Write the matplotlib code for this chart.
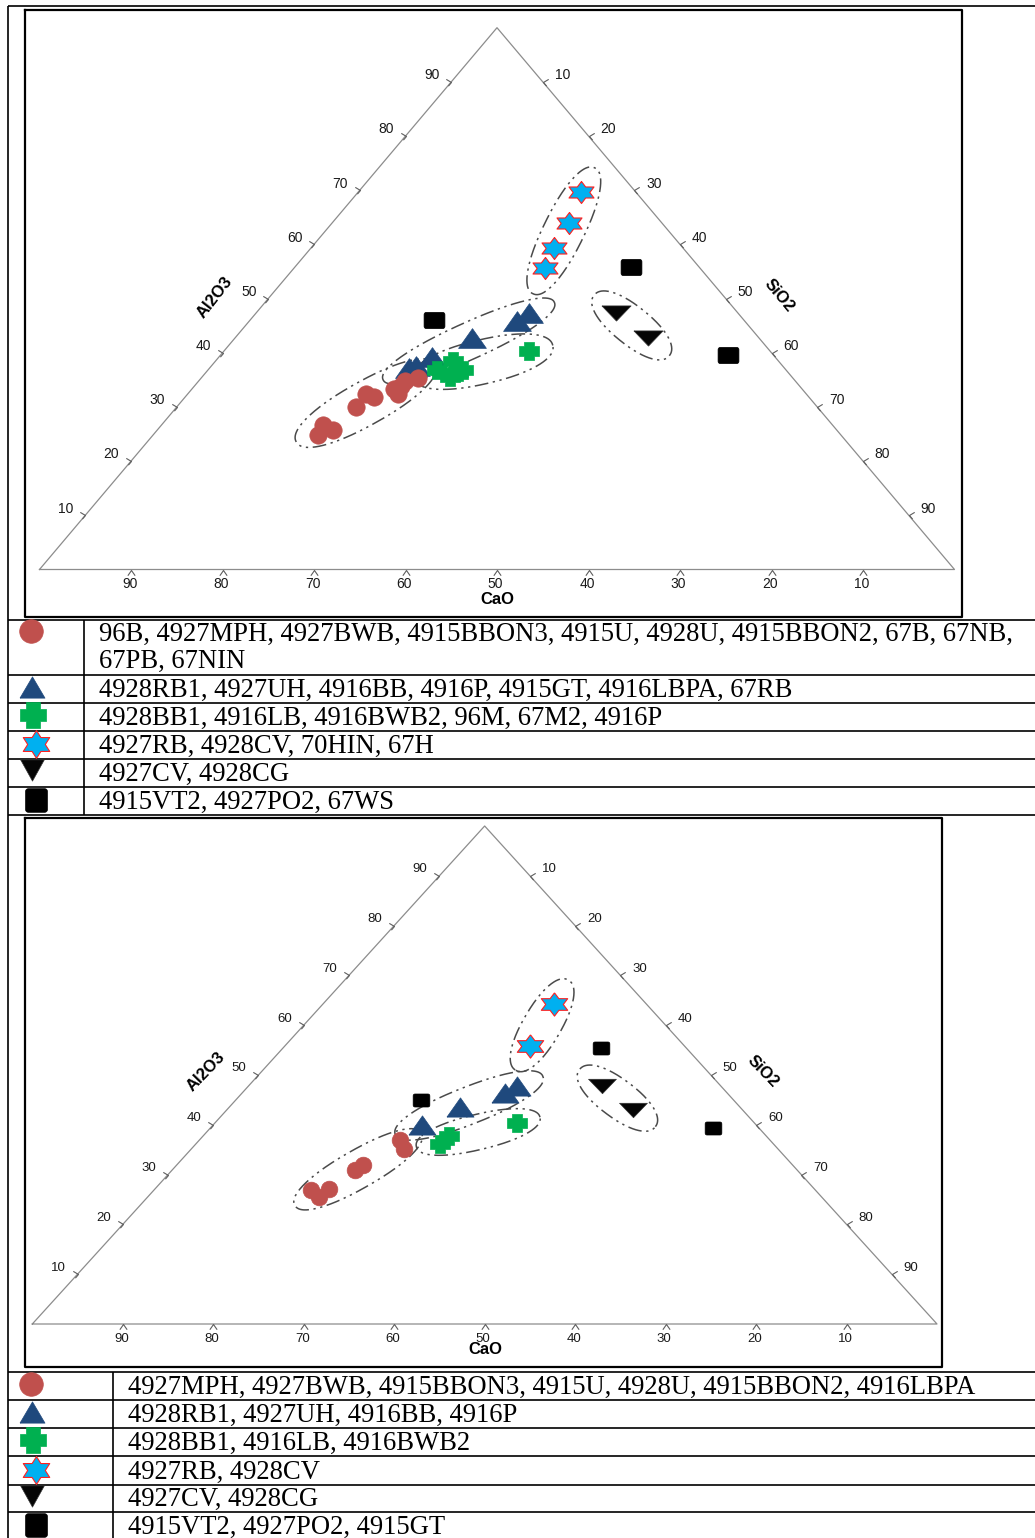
import numpy as np
import matplotlib
matplotlib.use("Agg")
import matplotlib.pyplot as plt

plt.rcParams['font.family'] = ['Liberation Sans', 'DejaVu Sans']

# ---------------- data: (CaO, Al2O3, SiO2) in wt% ----------------
TICKS = [10, 20, 30, 40, 50, 60, 70, 80, 90]

# upper diagram
A_CIRCLE = [(57.2, 24.8, 18.0), (55.7, 26.7, 17.6), (55.1, 25.7, 19.2),
            (50.4, 30.0, 19.6), (48.1, 32.4, 19.5), (47.5, 31.9, 20.6),
            (44.6, 33.3, 22.1), (44.6, 32.4, 23.0), (43.5, 33.9, 22.6),
            (42.7, 34.8, 22.5), (41.0, 35.3, 23.7)]
A_TRIANGLE = [(41.1, 37.1, 21.8), (40.1, 37.6, 22.3), (37.5, 39.3, 23.2),
              (31.4, 42.7, 25.9), (24.9, 45.9, 29.2), (22.9, 47.3, 29.8)]
A_PLUS = [(38.2, 36.8, 25.0), (35.6, 38.4, 26.0), (36.0, 36.5, 27.5),
          (37.3, 35.6, 27.1), (35.3, 36.8, 27.9), (26.3, 40.3, 33.4)]
A_STAR = [(6.0, 69.6, 24.4), (10.1, 64.0, 25.9), (14.1, 59.3, 26.6),
          (17.0, 55.6, 27.4)]
A_DOWN = [(13.3, 47.4, 39.3), (12.2, 42.7, 45.1)]
A_SQUARE = [(33.8, 46.1, 20.1), (7.4, 55.9, 36.7), (5.0, 39.5, 55.5)]

# lower diagram
B_CIRCLE = [(55.7, 26.9, 17.4), (53.6, 27.2, 19.2), (55.5, 25.6, 18.9),
            (48.9, 30.9, 20.2), (47.4, 32.0, 20.6), (40.9, 36.9, 22.2),
            (41.4, 35.1, 23.5)]
B_TRIANGLE = [(37.0, 39.9, 23.1), (31.0, 43.5, 25.5), (24.5, 46.4, 29.1),
              (22.6, 47.7, 29.7)]
B_PLUS = [(36.8, 36.2, 27.0), (35.1, 37.7, 27.2), (26.3, 40.3, 33.4)]
B_STAR = [(10.2, 64.2, 25.6), (17.1, 55.8, 27.1)]
B_DOWN = [(13.2, 47.7, 39.1), (12.1, 43.0, 44.9)]
B_SQUARE = [(34.5, 45.0, 20.5), (9.4, 55.4, 35.2), (5.1, 39.3, 55.6)]

A_LABELS = ["96B, 4927MPH, 4927BWB, 4915BBON3, 4915U, 4928U, 4915BBON2, 67B, 67NB,\n67PB, 67NIN",
            "4928RB1, 4927UH, 4916BB, 4916P, 4915GT, 4916LBPA, 67RB",
            "4928BB1, 4916LB, 4916BWB2, 96M, 67M2, 4916P",
            "4927RB, 4928CV, 70HIN, 67H",
            "4927CV, 4928CG",
            "4915VT2, 4927PO2, 67WS"]
B_LABELS = ["4927MPH, 4927BWB, 4915BBON3, 4915U, 4928U, 4915BBON2, 4916LBPA",
            "4928RB1, 4927UH, 4916BB, 4916P",
            "4928BB1, 4916LB, 4916BWB2",
            "4927RB, 4928CV",
            "4927CV, 4928CG",
            "4915VT2, 4927PO2, 4915GT"]

# ---------------- marker shapes ----------------
def tri_marker(h, down=False):
    s = -1 if down else 1
    return [(-1, -s * h), (1, -s * h), (0, s * h), (-1, -s * h)]


def plus_marker(h=0.9, aw=0.55, ah=0.5):
    return [(-aw, h), (aw, h), (aw, ah), (1, ah), (1, -ah), (aw, -ah),
            (aw, -h), (-aw, -h), (-aw, -ah), (-1, -ah), (-1, ah), (-aw, ah),
            (-aw, h)]


def star_marker(sx=1.31, inner=0.577):
    k = np.arange(12)
    ang = np.pi / 2 + k * np.pi / 6
    r = np.where(k % 2 == 0, 1.0, inner)
    pts = list(zip(sx * r * np.cos(ang), r * np.sin(ang)))
    return pts + [pts[0]]


def rrect_marker(h=0.78, r=0.22):
    pts = []
    for cx, cy, a0 in [(1 - r, h - r, 0), (-(1 - r), h - r, 90),
                       (-(1 - r), -(h - r), 180), (1 - r, -(h - r), 270)]:
        for a in np.radians(np.linspace(a0, a0 + 90, 7)):
            pts.append((cx + r * np.cos(a), cy + r * np.sin(a)))
    return pts + [pts[0]]


RED, BLUE, GREEN, CYAN = '#C0504D', '#1F497D', '#00B050', '#00B0F0'

STYLES = {
    'circle':   dict(marker='o', color=RED, mec=RED, z=4),
    'triangle': dict(marker=tri_marker(0.71), color=BLUE, mec=BLUE, z=3),
    'plus':     dict(marker=plus_marker(), color=GREEN, mec=GREEN, z=4),
    'star':     dict(marker=star_marker(), color=CYAN, mec='#FF2020', z=4),
    'down':     dict(marker=tri_marker(0.52, down=True), color='#050505', mec='#333333', z=4),
    'square':   dict(marker=rrect_marker(), color='black', mec='black', z=4),
}

W, H = 1035, 1538
fig = plt.figure(figsize=(W / 100, H / 100), dpi=100)
fig.patch.set_facecolor('white')

# page layer in pixel units: table rules, legend glyphs, legend text
page = fig.add_axes([0, 0, 1, 1])
page.set_xlim(0, W)
page.set_ylim(H, 0)
page.axis('off')


def to_xy(pts):
    arr = np.asarray(pts, float)
    cao, al, si = arr.T
    tot = arr.sum(axis=1)
    return np.column_stack([(si + al / 2) / tot * 100, al / tot * 100])


def chevron(kind):
    if kind == 'up':
        return [(-0.7, -1), (0, 0), (0.7, -1)]
    if kind == 'right':
        return [(-1, 0.6), (0, 0), (-0.6, -0.7)]
    return [(1, 0.6), (0, 0), (0.6, -0.7)]


def envelope(ax, xy, pad_along, pad_perp, n=2.2):
    pix = ax.transData.transform(xy)
    mean = pix.mean(axis=0)
    d = pix - mean
    _, _, vt = np.linalg.svd(d)
    axis = vt[0]
    perp = np.array([-axis[1], axis[0]])
    pa, pp = d @ axis, d @ perp
    center = mean + (pa.max() + pa.min()) / 2 * axis + (pp.max() + pp.min()) / 2 * perp
    a = (pa.max() - pa.min()) / 2 + pad_along
    b = (pp.max() - pp.min()) / 2 + pad_perp
    t = np.linspace(0, 2 * np.pi, 400)
    ct, st = np.cos(t), np.sin(t)
    ex = a * np.sign(ct) * np.abs(ct) ** (2 / n)
    ey = b * np.sign(st) * np.abs(st) ** (2 / n)
    ring = center + np.outer(ex, axis) + np.outer(ey, perp)
    dat = ax.transData.inverted().transform(ring)
    ax.plot(dat[:, 0], dat[:, 1], ls=(0, (9, 3, 1.5, 3, 1.5, 3)), color='#4a4a4a',
            lw=1.1, clip_on=False, zorder=2)


ENV_PAD = dict(circle=(22, 14), triangle=(28, 17), plus=(24, 15),
               star=(28, 19), down=(28, 19))


def ternary(geom, groups, sizes, label_pos, tick_fs):
    left, right, base, apex = geom
    ax = fig.add_axes([left / W, 1 - base / H, (right - left) / W, (base - apex) / H])
    ax.set_xlim(0, 100)
    ax.set_ylim(0, 100)
    ax.axis('off')
    ax.plot([0, 100, 50, 0], [0, 0, 100, 0], color='#8c8c8c', lw=0.9,
            clip_on=False, zorder=1)
    tk = dict(ls='none', mfc='none', mec='#5e5e5e', mew=0.8, ms=7.5,
              clip_on=False, zorder=1)
    lab = dict(fontsize=tick_fs, color='#1a1a1a', ha='center', va='center',
               textcoords='offset points', annotation_clip=False)
    for v in TICKS:
        # CaO along the base
        ax.plot([100 - v], [0], marker=chevron('up'), **tk)
        ax.annotate(str(v), (100 - v, 0), xytext=(-1, -10.5), **lab)
        # Al2O3 along the left edge
        ax.plot([v / 2], [v], marker=chevron('right'), **tk)
        ax.annotate(str(v), (v / 2, v), xytext=(-14, 4.8), **lab)
        # SiO2 along the right edge
        ax.plot([50 + v / 2], [100 - v], marker=chevron('left'), **tk)
        ax.annotate(str(v), (50 + v / 2, 100 - v), xytext=(14, 4.8), **lab)

    for name, pts in groups:
        xy = to_xy(pts)
        st = STYLES[name]
        if name in ENV_PAD:
            envelope(ax, xy, *ENV_PAD[name])
        ax.plot(xy[:, 0], xy[:, 1], ls='none', marker=st['marker'], ms=sizes[name],
                mfc=st['color'], mec=st['mec'], mew=0.8 if name == 'star' else 0.5,
                clip_on=False, zorder=st['z'])

    tf = dict(fontsize=12, fontweight='bold', color='black', ha='center', va='center')
    (cx, cy), (ax_, ay, arot), (sx, sy, srot) = label_pos
    page.text(cx, cy, 'CaO', **tf)
    page.text(ax_, ay, 'Al2O3', rotation=arot, **tf)
    page.text(sx, sy, 'SiO2', rotation=srot, **tf)
    return ax


GROUP_ORDER = ['triangle', 'circle', 'plus', 'star', 'down', 'square']

ternary((39.5, 954.5, 569.5, 27.7),
        list(zip(GROUP_ORDER, [A_TRIANGLE, A_CIRCLE, A_PLUS, A_STAR, A_DOWN, A_SQUARE])),
        dict(circle=12.5, triangle=20, plus=14, star=18, down=21, square=15),
        ((497, 600), (215, 297, 52), (779, 296, -50)), 10)

ternary((32.3, 937.0, 1324.0, 826.0),
        list(zip(GROUP_ORDER, [B_TRIANGLE, B_CIRCLE, B_PLUS, B_STAR, B_DOWN, B_SQUARE])),
        dict(circle=12, triangle=19.5, plus=14, star=19, down=20, square=12),
        ((485, 1350), (206, 1072, 46), (763, 1071, -46)), 9.5)

# ---------------- frames and tables ----------------
rule = dict(color='black', lw=1.2, solid_capstyle='butt')
page.plot([8, W], [5.5, 5.5], **rule)
page.plot([8, 8], [5.5, H], **rule)

box = dict(color='black', lw=1.6)
page.plot([25, 962, 962, 25, 25], [10, 10, 617, 617, 10], **box)
page.plot([25, 942, 942, 25, 25], [818, 818, 1367, 1367, 818], **box)

TOP_ROWS = [620, 675, 703, 731, 759, 787, 815]
BOT_ROWS = [1372, 1400, 1428, 1456, 1485, 1512]
for y in TOP_ROWS + BOT_ROWS:
    page.plot([8, W], [y, y], **rule)
page.plot([84, 84], [TOP_ROWS[0], TOP_ROWS[-1]], **rule)
page.plot([113, 113], [BOT_ROWS[0], H], **rule)

LEG_ORDER = ['circle', 'triangle', 'plus', 'star', 'down', 'square']
LEG_SIZE = dict(circle=17, triangle=18, plus=19, star=20, down=17, square=17)
LEG_MARK = dict(triangle=tri_marker(0.85), plus=plus_marker(1.0, 0.5, 0.45),
                star=star_marker(1.1), down=tri_marker(0.9, down=True),
                square=rrect_marker(1.08, 0.25), circle='o')
TOP_GLYPH_Y = [631, 687, 715, 744, 770, 800]
BOT_GLYPH_Y = [1384, 1412, 1440, 1470, 1496, 1525]
GLYPH_X = [31, 32, 33, 36, 32, 36]

txt = dict(family=['Liberation Serif', 'DejaVu Serif'], fontsize=19.2,
           color='black', ha='left', va='baseline')

for gy_list, labels, rows, tx in [(TOP_GLYPH_Y, A_LABELS, TOP_ROWS, 99),
                                  (BOT_GLYPH_Y, B_LABELS, BOT_ROWS + [1540], 128)]:
    for i, name in enumerate(LEG_ORDER):
        st = STYLES[name]
        page.plot([GLYPH_X[i]], [gy_list[i]], ls='none', marker=LEG_MARK[name],
                  ms=LEG_SIZE[name], mfc=st['color'], mec=st['mec'],
                  mew=0.8 if name == 'star' else 0.5, clip_on=False)
        lines = labels[i].split('\n')
        if len(lines) == 1:
            page.text(tx, rows[i + 1] - 6, lines[0], **txt)
        else:
            for j, ln in enumerate(lines):
                page.text(tx, rows[i] + 21 + 27 * j, ln, **txt)

fig.savefig('out.png', dpi=100, facecolor='white')
